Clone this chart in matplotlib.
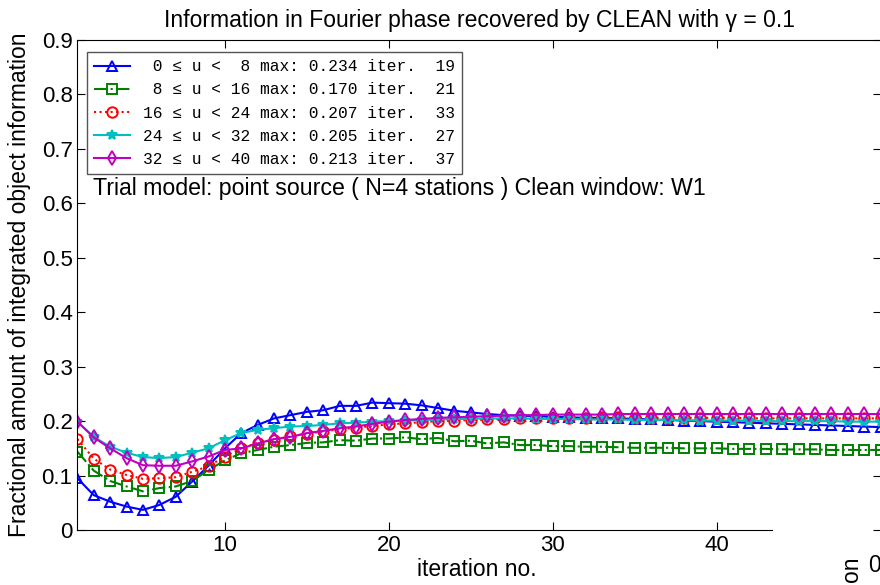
import numpy as np
import matplotlib
matplotlib.use('Agg')
import matplotlib.pyplot as plt

plt.rcParams['font.family'] = ['Liberation Sans', 'DejaVu Sans']

iters = np.arange(1, 51)

band_0_8 = [0.095, 0.064, 0.052, 0.043, 0.037, 0.046, 0.061, 0.089, 0.118, 0.150,
            0.178, 0.193, 0.205, 0.211, 0.217, 0.220, 0.228, 0.228, 0.234, 0.233,
            0.232, 0.229, 0.224, 0.219, 0.216, 0.213, 0.211, 0.210, 0.209, 0.208,
            0.207, 0.206, 0.206, 0.205, 0.204, 0.203, 0.202, 0.201, 0.200, 0.199,
            0.198, 0.197, 0.196, 0.195, 0.194, 0.193, 0.192, 0.191, 0.190, 0.189]
band_8_16 = [0.144, 0.109, 0.090, 0.080, 0.071, 0.077, 0.080, 0.090, 0.110, 0.128,
             0.141, 0.147, 0.153, 0.156, 0.160, 0.161, 0.165, 0.164, 0.168, 0.168,
             0.170, 0.167, 0.169, 0.163, 0.164, 0.159, 0.161, 0.156, 0.156, 0.154,
             0.154, 0.153, 0.153, 0.152, 0.151, 0.151, 0.151, 0.150, 0.150, 0.150,
             0.149, 0.149, 0.149, 0.148, 0.148, 0.148, 0.147, 0.147, 0.147, 0.147]
band_16_24 = [0.167, 0.131, 0.111, 0.101, 0.094, 0.095, 0.097, 0.107, 0.117, 0.135,
              0.150, 0.160, 0.166, 0.172, 0.177, 0.181, 0.185, 0.188, 0.191, 0.194,
              0.196, 0.198, 0.200, 0.201, 0.202, 0.203, 0.204, 0.205, 0.205, 0.206,
              0.206, 0.206, 0.207, 0.207, 0.206, 0.206, 0.206, 0.206, 0.206, 0.206,
              0.206, 0.205, 0.205, 0.205, 0.205, 0.205, 0.205, 0.205, 0.205, 0.205]
band_24_32 = [0.199, 0.171, 0.153, 0.142, 0.134, 0.132, 0.134, 0.142, 0.150, 0.165,
              0.178, 0.184, 0.187, 0.190, 0.191, 0.193, 0.196, 0.197, 0.199, 0.200,
              0.201, 0.202, 0.203, 0.204, 0.204, 0.205, 0.205, 0.205, 0.204, 0.204,
              0.204, 0.203, 0.203, 0.203, 0.202, 0.202, 0.202, 0.202, 0.201, 0.201,
              0.201, 0.201, 0.200, 0.200, 0.200, 0.200, 0.200, 0.199, 0.199, 0.199]
band_32_40 = [0.199, 0.170, 0.150, 0.132, 0.119, 0.118, 0.118, 0.126, 0.135, 0.147,
              0.150, 0.159, 0.167, 0.171, 0.178, 0.182, 0.187, 0.190, 0.195, 0.199,
              0.202, 0.204, 0.206, 0.207, 0.208, 0.209, 0.210, 0.211, 0.211, 0.212,
              0.212, 0.212, 0.212, 0.213, 0.213, 0.213, 0.213, 0.213, 0.213, 0.213,
              0.213, 0.213, 0.213, 0.213, 0.213, 0.213, 0.213, 0.213, 0.213, 0.213]

labels = [' 0 \u2264 u <  8 max: 0.234 iter.  19',
          ' 8 \u2264 u < 16 max: 0.170 iter.  21',
          '16 \u2264 u < 24 max: 0.207 iter.  33',
          '24 \u2264 u < 32 max: 0.205 iter.  27',
          '32 \u2264 u < 40 max: 0.213 iter.  37']

series = [band_0_8, band_8_16, band_16_24, band_24_32, band_32_40]
# colour, line style, marker, filled marker?
styles = [('#0000ff', '-', '^', False),
          ('#008000', '-.', 's', False),
          ('#ff0000', ':', 'o', False),
          ('#00bfbf', '-', '*', True),
          ('#bf00bf', '-', 'd', False)]

fig = plt.figure(figsize=(8.8, 5.85), dpi=100)
W, H = 880, 585
ax = fig.add_axes([77.4 / W, 55 / H, (880.6 - 77.4) / W, 490 / H])

for vals, (c, ls, m, filled), lab in zip(series, styles, labels):
    ax.plot(iters, vals, color=c, linestyle=ls, marker=m, markersize=7.5,
            markerfacecolor=c if filled else 'none', markeredgewidth=1.4,
            linewidth=1.5, label=lab)

ax.set_xlim(1, 50)
ax.set_ylim(0, 0.9)
ax.set_xticks([10, 20, 30, 40])
ax.set_yticks(np.arange(0, 0.91, 0.1))
ax.set_yticklabels(['0'] + ['%.1f' % v for v in np.arange(0.1, 0.91, 0.1)])
ax.tick_params(direction='in', top=True, right=True, labelsize=16, length=6, width=0.8)
ax.spines['bottom'].set_bounds(1, 43.4)
for s in ax.spines.values():
    s.set_linewidth(0.8)

ax.set_title('Information in Fourier phase recovered by CLEAN with \u03b3 = 0.1',
             fontsize=16.5, pad=9)
ax.set_xlabel('iteration no.', fontsize=16.5)
ax.xaxis.set_label_coords(0.497, -0.058)
ax.set_ylabel('Fractional amount of integrated object information', fontsize=16.5)
ax.yaxis.set_label_coords(-0.058, 0.5)

leg = ax.legend(loc='upper left', bbox_to_anchor=(0.012, 0.9755), borderaxespad=0,
                prop={'family': ['Liberation Mono', 'DejaVu Sans Mono'], 'size': 11.7},
                fancybox=False, framealpha=1, edgecolor='#555555',
                handlelength=2.2, labelspacing=0.5, borderpad=0.45)
leg.get_frame().set_linewidth(1.0)

ax.text(0.020, 0.697, 'Trial model: point source ( N=4 stations ) Clean window: W1',
        transform=ax.transAxes, fontsize=16.7, va='center', ha='left')

# bits of the neighbouring panel at the lower right
fig.text(851 / W, 1 - 557 / H, 'on', rotation=90, fontsize=16.5,
         ha='center', va='top')
fig.text(868 / W, 1 - 566 / H, '0', fontsize=16.5, ha='left', va='center')

fig.savefig('out.png', dpi=100)
